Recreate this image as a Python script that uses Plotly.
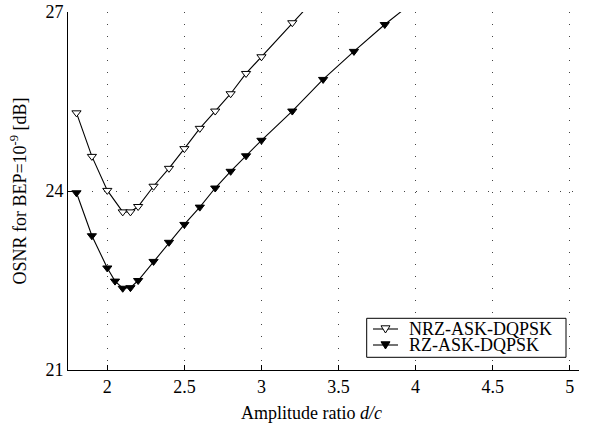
import plotly.graph_objects as go

# OSNR required for BEP = 1e-9 versus amplitude ratio d/c
nrz_x = [1.8, 1.9, 2.0, 2.1, 2.15, 2.2, 2.3, 2.4, 2.5, 2.6, 2.7, 2.8, 2.9, 3.0, 3.2, 3.4]
nrz_y = [25.31, 24.58, 24.01, 23.65, 23.65, 23.74, 24.08, 24.38, 24.71, 25.05,
         25.34, 25.63, 25.97, 26.25, 26.82, 27.37]

rz_x = [1.8, 1.9, 2.0, 2.05, 2.1, 2.15, 2.2, 2.3, 2.4, 2.5, 2.6, 2.7, 2.8, 2.9,
        3.0, 3.2, 3.4, 3.6, 3.8, 4.0]
rz_y = [23.97, 23.25, 22.71, 22.49, 22.37, 22.38, 22.50, 22.82, 23.14, 23.44,
        23.73, 24.05, 24.33, 24.59, 24.85, 25.34, 25.87, 26.34, 26.79, 27.2]

series_names = ["NRZ-ASK-DQPSK", "RZ-ASK-DQPSK"]
series_fill = ["white", "black"]

x_ticks = [2, 2.5, 3, 3.5, 4, 4.5, 5]
x_tick_text = ["2", "2.5", "3", "3.5", "4", "4.5", "5"]
y_ticks = [21, 24, 27]
y_tick_text = ["21", "24", "27"]

FONT = "Liberation Serif, Times New Roman, serif"
W, H = 595, 424
ML, MR, MT, MB = 68, 16, 12, 54
PW, PH = W - ML - MR, H - MT - MB


def px_x(px):
    """Page pixel column -> paper x fraction."""
    return (px - ML) / PW


def px_y(py):
    """Page pixel row -> paper y fraction."""
    return (H - MB - py) / PH


fig = go.Figure()
for xs, ys, name, fill in zip([nrz_x, rz_x], [nrz_y, rz_y], series_names, series_fill):
    fig.add_trace(go.Scatter(
        x=xs, y=ys, mode="lines+markers", name=name, showlegend=False,
        line=dict(color="black", width=1.1),
        marker=dict(symbol="triangle-down", size=8, color=fill,
                    line=dict(color="black", width=1)),
    ))

axis_common = dict(
    showline=True, linecolor="black", linewidth=1, mirror=False,
    ticks="inside", ticklen=5, tickwidth=1, tickcolor="black",
    showgrid=True, gridcolor="#444", gridwidth=1, griddash="1px,11px",
    zeroline=False, tickfont=dict(family=FONT, size=18, color="black"),
)

fig.update_xaxes(range=[1.745, 5.06], tickvals=x_ticks, ticktext=x_tick_text,
                 **axis_common)
fig.update_yaxes(
    range=[21, 27], tickvals=y_ticks, ticktext=y_tick_text,
    title=dict(text="OSNR for BEP=10<sup>-9</sup> [dB]",
               font=dict(family=FONT, size=18, color="black"), standoff=14),
    **axis_common,
)

# x-axis title
annotations = [dict(
    text="Amplitude ratio <i>d/c</i>", xref="paper", yref="paper",
    x=px_x(311), y=px_y(413), xanchor="center", yanchor="middle",
    showarrow=False, font=dict(family=FONT, size=18, color="black"),
)]

# boxed legend in the lower right corner
shapes = [dict(type="rect", xref="paper", yref="paper",
               x0=px_x(366.7), x1=px_x(566), y0=px_y(357.3), y1=px_y(318.3),
               line=dict(color="black", width=1), fillcolor="white", layer="above")]
row_y = [329, 345]
for ry, name, fill in zip(row_y, series_names, series_fill):
    shapes.append(dict(type="line", xref="paper", yref="paper",
                       x0=px_x(373), x1=px_x(398), y0=px_y(ry), y1=px_y(ry),
                       line=dict(color="black", width=1.1), layer="above"))
    cx = 385.5
    tri = "M {:.5f},{:.5f} L {:.5f},{:.5f} L {:.5f},{:.5f} Z".format(
        px_x(cx - 4.5), px_y(ry - 3.2), px_x(cx + 4.5), px_y(ry - 3.2),
        px_x(cx), px_y(ry + 4))
    shapes.append(dict(type="path", xref="paper", yref="paper", path=tri,
                       fillcolor=fill, line=dict(color="black", width=1),
                       layer="above"))
    annotations.append(dict(
        text=name, xref="paper", yref="paper", x=px_x(407), y=px_y(ry),
        xanchor="left", yanchor="middle", showarrow=False,
        font=dict(family=FONT, size=18, color="black"),
    ))

fig.update_layout(
    width=W, height=H,
    margin=dict(l=ML, r=MR, t=MT, b=MB, autoexpand=False),
    paper_bgcolor="white", plot_bgcolor="white",
    font=dict(family=FONT, size=18, color="black"),
    showlegend=False,
    shapes=shapes, annotations=annotations,
)

fig.write_html("out.html")
